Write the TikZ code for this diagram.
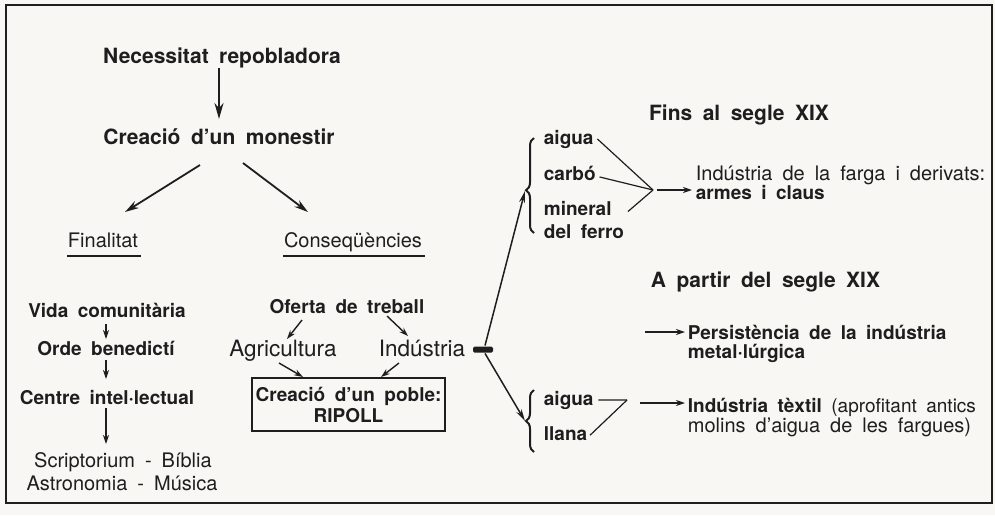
\documentclass[tikz,border=0pt]{standalone}
\usepackage{fontspec}
\setmainfont{TeX Gyre Heros}[WordSpace=1.8]
\usetikzlibrary{arrows.meta,decorations.pathreplacing}
\definecolor{ink}{RGB}{30,30,30}
\definecolor{paper}{RGB}{248,247,244}

\begin{document}
\begin{tikzpicture}
        [x=1pt,y=-1pt,->,>={Stealth[length=14pt,width=8pt]},line width=1.8pt,color=ink,inner sep=0pt,
        head/.style={font=\fontsize{21}{24}\selectfont\bfseries,anchor=base},
        item/.style={font=\fontsize{19}{21}\selectfont\bfseries,anchor=base},
        plain/.style={font=\fontsize{20}{23}\selectfont,anchor=base},
        big/.style={font=\fontsize{22.5}{26}\selectfont,anchor=base},
        small/.style={>={Stealth[length=9pt,width=6pt]},line width=1.4pt},
        long/.style={>={Stealth[length=12pt,width=6pt]},line width=1.5pt},
        tie/.style={-,line width=1.2pt},
        curly/.style={-,decorate,decoration={brace,amplitude=8pt,aspect=#1},line width=2pt}]

    \fill[paper] (0,0) rectangle (995,515);
    \draw[line width=1.8pt] (6,5) rectangle (992,503);

    % left column
    \node[head] (nec) at (222,63) {Necessitat repobladora};
    \node[head] (mon) at (219,144) {Creació d'un monestir};
    \node[plain] (fin) at (103,247) {Finalitat};
    \node[plain] (cons) at (353,247) {Conseqüències};
    \node[item] (vida) at (107,317) {Vida comunitària};
    \node[item] (orde) at (106,355) {Orde benedictí};
    \node[item] (centre) at (107,404) {Centre intel·lectual};
    \node[plain] (scrip) at (123,467) {Scriptorium - Bíblia};
    \node[plain] (astro) at (122,490) {Astronomia - Música};

    % consequencies
    \node[item] (ofer) at (347,313) {Oferta de treball};
    \node[big] (agri) at (283,356) {Agricultura};
    \node[big] (indu) at (422,356) {Indústria};
    \node[item,align=center,draw,line width=1.4pt,minimum width=193pt,minimum height=53pt,anchor=center]
        (poble) at (348.5,404.5) {Creació d'un poble:\\RIPOLL};
    \node[fill,minimum width=20pt,minimum height=6pt,rounded corners=1.5pt] (bar) at (483,349.5) {};

    % fins al segle XIX
    \node[head] (fins) at (739,120) {Fins al segle XIX};
    \node[item,anchor=base west] (aig1) at (543,144) {aigua};
    \node[item,anchor=base west] (carb) at (543,180) {carbó};
    \node[item,anchor=base west,align=left] (mine) at (543,238) {mineral\\[2pt]del ferro};
    \node[plain,anchor=base west] (farga) at (695,180) {Indústria de la farga i derivats:};
    \node[item,anchor=base west] (armes) at (695,199) {armes i claus};
    \coordinate (conv) at (653,190);
    \coordinate (ftip) at (525,191);

    % a partir del segle XIX
    \node[head,anchor=base west] (apartir) at (650,287) {A partir del segle XIX};
    \node[item,anchor=base west] (pers) at (687,339) {Persistència de la indústria};
    \node[item,anchor=base west] (metal) at (687,358) {metal·lúrgica};
    \node[item,anchor=base west] (aig2) at (543,405) {aigua};
    \node[item,anchor=base west] (llana) at (543,440) {llana};
    \node[item,anchor=base west] (textil) at (687,412) {Indústria tèxtil \mdseries(aprofitant antics};
    \node[plain,anchor=base west] (molins) at (687,432) {molins d'aigua de les fargues)};
    \coordinate (lconv) at (627,400);
    \coordinate (ttip) at (525,421);

    % underlines
    \draw[-,line width=1.4pt] ([yshift=-9pt]fin.base west) -- ([xshift=2pt,yshift=-9pt]fin.base east);
    \draw[-,line width=1.4pt] ([yshift=-9pt]cons.base west) -- ([xshift=2pt,yshift=-9pt]cons.base east);

    % arrows
    \draw[line width=2.2pt,>={Stealth[length=16pt,width=9pt]}] (219,68) -- (219,119);
    \draw (200,165) -- (125,212);
    \draw (243,163) -- (308,212);
    \draw[small] (106,324) -- (106,339);
    \draw[small] (106,360) -- (106,379);
    \draw[small] (106,408) -- (106,444);
    \draw[small] (302,320) -- (287,339);
    \draw[small] (387,316) -- (408,336);
    \draw[small] (279,363) -- (303,377);
    \draw[small] (399,363) -- (381,377);
    \draw[long] ([xshift=2pt]bar.north) -- (ftip);
    \draw[long] ([xshift=2pt]bar.south) -- (ttip);

    % braces
    \draw[curly=0.45] (534,233) -- (534,138);
    \draw[curly=0.5] (534,452) -- (534,390);

    % ties
    \draw[tie] ([xshift=3pt]aig1.east) -- (conv);
    \draw[tie] ([xshift=3pt,yshift=-4pt]carb.east) -- (conv);
    \draw[tie] ([xshift=3pt,yshift=8pt]mine.east) -- (conv);
    \draw[small] (657,190) -- (692,190);
    \draw[tie] ([xshift=4pt]aig2.east) -- (lconv);
    \draw[tie] ([xshift=2pt,yshift=-2pt]llana.east) -- (lconv);
    \draw[small] (645,332) -- (685,332);
    \draw[small] (640,403) -- (685,403);
\end{tikzpicture}
\end{document}
